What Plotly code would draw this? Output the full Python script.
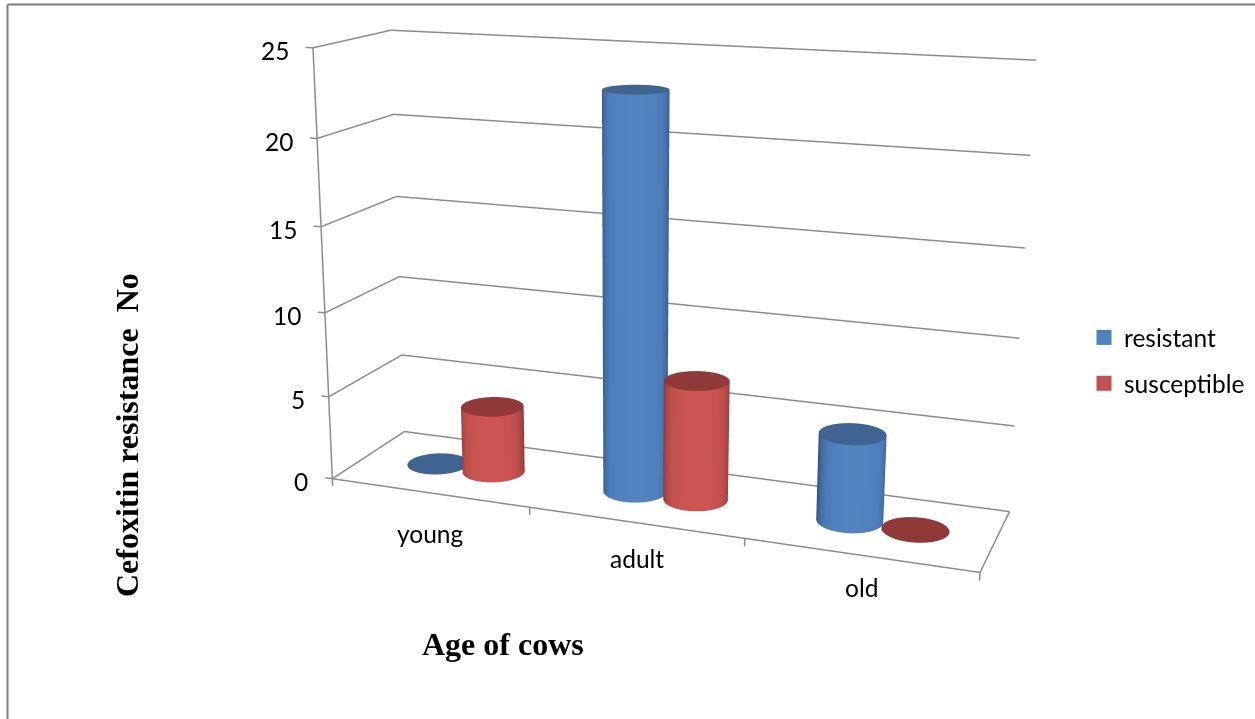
import numpy as np
import plotly.graph_objects as go

categories = ["young", "adult", "old"]
resistant = [0, 23, 5]
susceptible = [4, 7, 0]
z_ticks = [0, 5, 10, 15, 20, 25]

W,H=1255,1500
TOP=450   # page offset of the figure, gives the long lens of the reference's 3D view
xr=[-.2,3.2];yr=[-.1,1.1];zr=[-1,26]
eye=(1.3904,-3.8609,1.055);center=(-0.0752,-0.0416,-0.0417);up=(0.0019,0.0011,1)
ax,ay,az=1.8141,0.456,1.1491

rx=0.145
offs=0.512
rw=rx*ax/(xr[1]-xr[0])
ry=rw*(yr[1]-yr[0])/ay
th=np.linspace(0,2*np.pi,145)
phi=np.arctan2(eye[1]-center[1],eye[0]-center[0])
fig=go.Figure()
blue=[[0,"#2a4669"],[.3,"#3a6296"],[.7,"#4c7dba"],[1,"#5384c0"]]
red=[[0,"#6a2928"],[.3,"#9a403e"],[.7,"#c24f4c"],[1,"#cd5654"]]
flat=dict(ambient=1,diffuse=0,specular=0,roughness=1,fresnel=0)
def cyl(cx,cy,h,scale,top):
    if h>0:
        X=np.outer(cx+rx*np.cos(th),[1,1]);Y=np.outer(cy+ry*np.sin(th),[1,1]);Z=np.outer(np.ones_like(th),[0,h])
        sc=np.outer(np.clip(np.cos(th-phi),0,1)**.8,[1,1])
        fig.add_trace(go.Surface(x=X,y=Y,z=Z,surfacecolor=sc,colorscale=scale,cmin=0,cmax=1,showscale=False,lighting=flat,hoverinfo="skip"))
    R=np.array([0,1.0])
    X=cx+rx*np.outer(np.cos(th),R);Y=cy+ry*np.outer(np.sin(th),R);Z=np.full_like(X,h)
    fig.add_trace(go.Surface(x=X,y=Y,z=Z,surfacecolor=np.zeros_like(X),colorscale=[[0,top],[1,top]],showscale=False,lighting=flat,hoverinfo="skip"))
for i in range(3):
    cyl(i+offs-rx,.5,resistant[i],blue,"#3f6491")
    cyl(i+offs+rx,.5,susceptible[i],red,"#8f3a38")
# walls, axes, ticks
gx,gy,gz=[],[],[]
def seg(pts):
    for a,b,c in pts:
        gx.append(a);gy.append(b);gz.append(c)
    gx.append(None);gy.append(None);gz.append(None)
for t in z_ticks:
    seg([(-.037,0,t),(0,0,t),(0,1,t),(3,1,t)])
seg([(0,0,0),(0,0,25)])
seg([(0,0,0),(3,0,0),(3,1,0)])
for v in [0,1,2,3]:
    seg([(v,0,0),(v,0,-.45)])
fig.add_trace(go.Scatter3d(x=gx,y=gy,z=gz,mode="lines",line=dict(color="#8c8c8c",width=3),showlegend=False,hoverinfo="skip"))
for n,c in (("resistant","#4f81bd"),("susceptible","#c0504d")):
    fig.add_trace(go.Scatter3d(x=[None],y=[None],z=[None],mode="markers",name=n,legendgroup=n,marker=dict(symbol="square",size=15,color=c)))
fnt=dict(family="Lato",size=24.5,color="#000")
serif=dict(family="Liberation Serif",size=32,color="#000")
hid=dict(visible=False,showspikes=False)
def px(x): return x/W
def py(y): return 1-(y+TOP)/H
label_dy=[-41,-36,-32]
sann=[dict(x=v+.5,y=0,z=0,text=c,showarrow=False,xshift=2,yshift=label_dy[v],font=fnt) for v,c in enumerate(categories)]
sann+=[dict(x=0,y=0,z=t,text=str(t),showarrow=False,xanchor="right",xshift=-22,yshift=-3,font=fnt) for t in z_ticks]
fig.update_layout(width=W,height=H,margin=dict(l=0,r=0,t=0,b=0),paper_bgcolor="white",
    scene=dict(domain=dict(x=[0,1],y=[0,1]),aspectmode="manual",aspectratio=dict(x=ax,y=ay,z=az),annotations=sann,
        camera=dict(eye=dict(x=eye[0],y=eye[1],z=eye[2]),center=dict(x=center[0],y=center[1],z=center[2]),up=dict(x=up[0],y=up[1],z=up[2]),projection=dict(type="perspective")),
        xaxis=dict(hid,range=xr),yaxis=dict(hid,range=yr),zaxis=dict(hid,range=zr)),
    legend=dict(x=px(1084),y=py(315),xanchor="left",yanchor="top",font=fnt,tracegroupgap=11,bgcolor="rgba(0,0,0,0)"),
    annotations=[
        dict(text="<b>Age of cows</b>",xref="paper",yref="paper",x=px(503),y=py(644),xanchor="center",yanchor="middle",showarrow=False,font=serif),
        dict(text="<b>Cefoxitin resistance  No</b>",xref="paper",yref="paper",x=px(127),y=py(435),xanchor="center",yanchor="middle",textangle=-90,showarrow=False,font=serif),
    ],
    shapes=[dict(type="line",xref="paper",yref="paper",x0=px(7.5),x1=px(7.5),y0=py(719),y1=py(4.5),line=dict(color="#7f7f7f",width=2)),
            dict(type="line",xref="paper",yref="paper",x0=px(7.5),x1=1,y0=py(4.5),y1=py(4.5),line=dict(color="#7f7f7f",width=2))])
fig.write_html("out.html",post_script="document.documentElement.style.overflow='hidden';document.body.style.margin='0';document.body.style.overflow='hidden';document.querySelector('.plotly-graph-div').style.marginTop='-%dpx';"%TOP)
